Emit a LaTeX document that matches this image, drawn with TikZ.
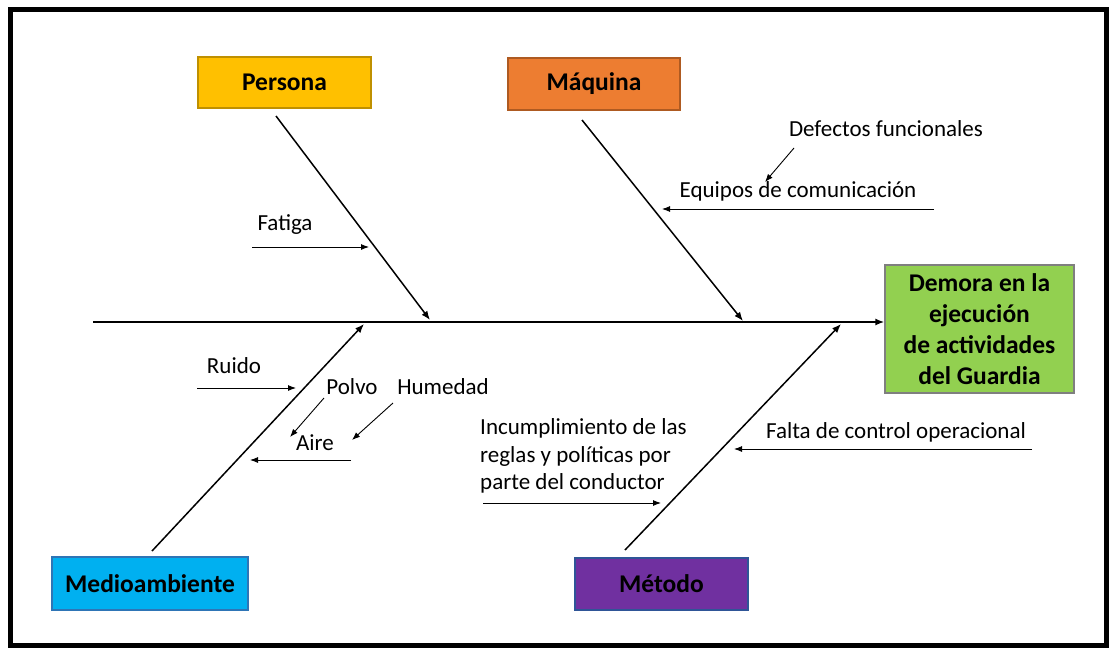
\documentclass[tikz,border=0pt]{standalone}
\usepackage{fontspec}
\setmainfont{Carlito}
\usetikzlibrary{arrows.meta}
\definecolor{cyel}{HTML}{FFC000}
\definecolor{cyelb}{HTML}{BF9000}
\definecolor{corg}{HTML}{ED7D31}
\definecolor{corgb}{HTML}{AE5A21}
\definecolor{cgrn}{HTML}{92D050}
\definecolor{cgrnb}{HTML}{7F7F7F}
\definecolor{cblu}{HTML}{00B0F0}
\definecolor{cblub}{HTML}{2E75B6}
\definecolor{cpur}{HTML}{7030A0}
\definecolor{cpurb}{HTML}{2F5597}
\tikzset{
  cat/.style={draw, line width=1.2pt, inner sep=0pt, font=\fontsize{25.5}{31}\selectfont\bfseries},
  lbl/.style={inner sep=0pt, font=\fontsize{23}{27.5}\selectfont},
  bone/.style={line width=1.5pt, -{Latex[length=9pt,width=7pt]}},
  sub/.style={line width=0.9pt, -{Latex[length=8pt,width=6pt]}},
  spine/.style={line width=2pt, -{Latex[length=9pt,width=7pt]}}
}
\begin{document}
\begin{tikzpicture}[x=1pt,y=-1pt]
\useasboundingbox (0,0) rectangle (1111,648);
\draw[line width=5pt] (10.5,9.5) rectangle (1106.5,645.5);

\node[cat, fill=cyel, draw=cyelb, minimum width=173pt, minimum height=51pt] (persona) at (284.5,82.5) {Persona};
\node[cat, fill=corg, draw=corgb, minimum width=172pt, minimum height=52pt] (maquina) at (594,84) {Máquina};
\node[cat, fill=cgrn, draw=cgrnb, minimum width=189pt, minimum height=128pt, align=center] (demora) at (979.5,329) {Demora en la\\ejecución\\de actividades\\del Guardia};
\node[cat, fill=cblu, draw=cblub, minimum width=196pt, minimum height=53pt] (medio) at (150,583.5) {Medioambiente};
\node[cat, fill=cpur, draw=cpurb, minimum width=173pt, minimum height=52pt] (metodo) at (661.5,584) {Método};

% spine
\coordinate (spL) at (93,322);
\draw[spine] (spL) -- (spL -| demora.west);

% main bones
\coordinate (pS) at (276,116);
\coordinate (pE) at (430,320);
\coordinate (mS) at (582,120);
\coordinate (mE) at (743,321);
\coordinate (eS) at (152,551);
\coordinate (eE) at (364,324);
\coordinate (tS) at (625,550);
\coordinate (tE) at (841,324);
\draw[bone] (pS) -- (pE);
\draw[bone] (mS) -- (mE);
\draw[bone] (eS) -- (eE);
\draw[bone] (tS) -- (tE);

% Persona causes
\node[lbl] (fatiga) at (285,225) {Fatiga};
\coordinate (fa1) at (252,247);
\coordinate (fa2) at (369,247);
\draw[sub] (fa1) -- (fa2);

% Maquina causes
\node[lbl] (defectos) at (886,129) {Defectos funcionales};
\node[lbl] (equipos) at (798,191) {Equipos de comunicación};
\coordinate (de1) at (794,148);
\coordinate (de2) at (765,182);
\draw[sub] (de1) -- (de2);
\coordinate (eq1) at (934,209);
\coordinate (eq2) at (662,209);
\draw[sub] (eq1) -- (eq2);

% Medioambiente causes
\node[lbl] (ruido) at (234,366) {Ruido};
\coordinate (ru1) at (197,388);
\coordinate (ru2) at (296,388);
\draw[sub] (ru1) -- (ru2);
\node[lbl] (polvo) at (352,387) {Polvo};
\node[lbl] (humedad) at (443,387) {Humedad};
\node[lbl] (aire) at (315,443) {Aire};
\coordinate (po1) at (324,398);
\coordinate (po2) at (290,437);
\draw[sub] (po1) -- (po2);
\coordinate (hu1) at (393,403);
\coordinate (hu2) at (352,440);
\draw[sub] (hu1) -- (hu2);
\coordinate (ai1) at (351,460);
\coordinate (ai2) at (250,460);
\draw[sub] (ai1) -- (ai2);

% Metodo causes
\node[lbl, align=left, anchor=west] (incumpl) at (480,456) {Incumplimiento de las\\reglas y políticas por\\parte del conductor};
\coordinate (in1) at (483,503);
\coordinate (in2) at (661,503);
\draw[sub] (in1) -- (in2);
\node[lbl] (falta) at (896,432) {Falta de control operacional};
\coordinate (fc1) at (1032,449);
\coordinate (fc2) at (734,449);
\draw[sub] (fc1) -- (fc2);
\end{tikzpicture}
\end{document}
